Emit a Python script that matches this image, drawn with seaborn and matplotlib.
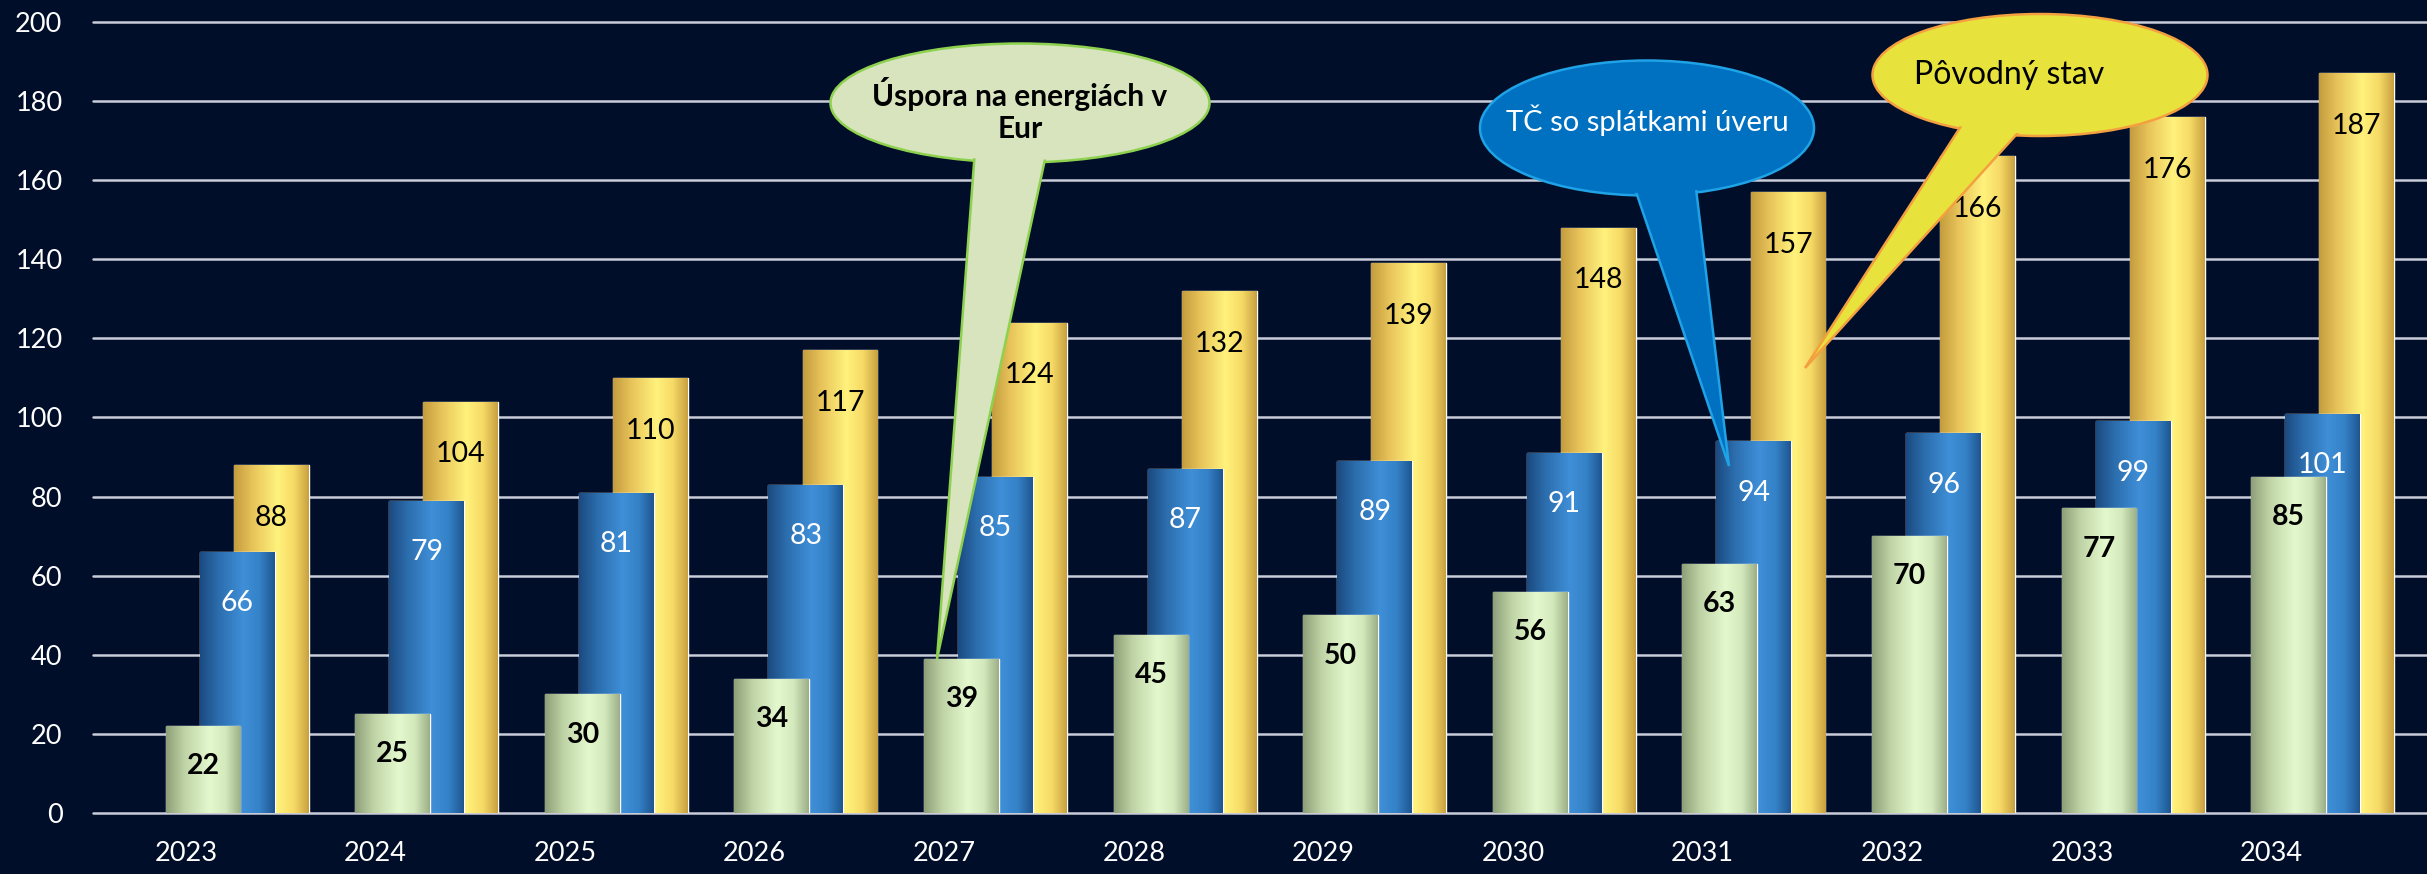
import numpy as np
import pandas as pd
import matplotlib
matplotlib.use("Agg")
import matplotlib.pyplot as plt
import seaborn as sns
from matplotlib.patches import Ellipse, Polygon
from matplotlib.colors import LinearSegmentedColormap

years = ["2023", "2024", "2025", "2026", "2027", "2028",
         "2029", "2030", "2031", "2032", "2033", "2034"]
uspora = [22, 25, 30, 34, 39, 45, 50, 56, 63, 70, 77, 85]
tc_uver = [66, 79, 81, 83, 85, 87, 89, 91, 94, 96, 99, 101]
povodny = [88, 104, 110, 117, 124, 132, 139, 148, 157, 166, 176, 187]

W, H = 2427, 874
BG = "#010E29"

sns.set_style("dark")
plt.rcParams["font.family"] = ["Lato", "DejaVu Sans"]

fig = plt.figure(figsize=(W / 100, H / 100), dpi=100, facecolor=BG)
ax = fig.add_axes([93 / W, 1 - 813 / H, (W - 93) / W, (813 - 22) / H])
ax.set_facecolor(BG)

idx = np.arange(len(years))
# values, offset in group, base colour, gradient stops, zorder, label style, label drop (pt)
series = [
    (povodny, 0.36, "#F2D060", ["#C49C3E", "#E8C45A", "#FFF27C", "#F6DA66", "#C8A040"], 2,
     dict(color="black", fontweight="normal"), 38),
    (tc_uver, 0.18, "#2F74B8", ["#1B4A80", "#2C6EAE", "#3F8FD8", "#3481C6", "#1F5690"], 3,
     dict(color="white", fontweight="normal"), 37),
    (uspora, 0.0, "#CDE3B4", ["#8E9F78", "#BFD4A6", "#E4F8CE", "#D3E9BC", "#9CAE86"], 4,
     dict(color="black", fontweight="bold"), 29),
]

grad = np.linspace(0, 1, 256).reshape(1, -1)
for vals, off, base, stops, z, tstyle, drop in series:
    df = pd.DataFrame({"x": idx + off, "v": vals})
    sns.barplot(data=df, x="x", y="v", native_scale=True, width=0.395,
                color=base, saturation=1, errorbar=None, ax=ax, zorder=z)
    cont = ax.containers[-1]
    cmap = LinearSegmentedColormap.from_list("c", list(zip([0, 0.25, 0.58, 0.8, 1], stops)))
    for p, v in zip(cont.patches, vals):
        x0, w, h = p.get_x(), p.get_width(), p.get_height()
        im = ax.imshow(grad, cmap=cmap, aspect="auto", extent=(x0, x0 + w, 0, h),
                       origin="lower", zorder=z, interpolation="bilinear")
        im.set_clip_path(p)
        ax.annotate(str(v), (x0 + w / 2, h), xytext=(0, -drop), textcoords="offset points",
                    ha="center", va="center", fontsize=20.5, zorder=z + 0.5, **tstyle)

ax.set_xlim(-0.58, 11.73)
ax.set_ylim(0, 200)
ax.set_yticks(range(0, 201, 20))
ax.set_xticks(idx - 0.09, years)
ax.set_xlabel("")
ax.set_ylabel("")
for s in ax.spines.values():
    s.set_visible(False)
ax.grid(axis="y", color="#C9CCD9", lw=1.8)
ax.grid(axis="x", visible=False)
ax.set_axisbelow(True)
for gl in ax.get_ygridlines():
    gl.set_clip_on(False)
ax.tick_params(axis="y", colors="white", labelsize=19.5, length=0, pad=22)
ax.tick_params(axis="x", colors="white", labelsize=19.5, length=0, pad=20)


def fp(x, y):
    return (x / W, 1 - y / H)


def callout(center, size, tail, face, edge, text, tpos, tcolor, weight, fs):
    cx, cy = center
    w, h = size
    kw = dict(transform=fig.transFigure, clip_on=False)
    ax.add_patch(Ellipse(fp(cx, cy), w / W, h / H, facecolor=face, edgecolor=edge,
                         lw=1.8, zorder=10, **kw))
    ax.add_patch(Polygon([fp(*p) for p in tail], closed=True, facecolor=face,
                         edgecolor=edge, lw=1.8, zorder=11, **kw))
    ax.add_patch(Ellipse(fp(cx, cy), (w - 5) / W, (h - 5) / H, facecolor=face,
                         edgecolor="none", zorder=12, **kw))
    ax.text(*fp(*tpos), text, transform=fig.transFigure, ha="center", va="center",
            color=tcolor, fontsize=fs, fontweight=weight, zorder=13, linespacing=1.2)


callout((1020, 103), (379, 119), [(975, 150), (1047, 150), (937, 659)],
        "#D7E4BD", "#8ED14F", "Úspora na energiách v\nEur", (1020, 110), "black", "bold", 21.5)
callout((1647, 128), (334, 135), [(1632, 180), (1695, 180), (1729, 466)],
        "#0070C0", "#1FA2E6", "TČ so splátkami úveru", (1647, 120), "white", "normal", 21)
callout((2040, 75), (335, 122), [(1965, 120), (2025, 125), (1805, 368)],
        "#E8E33C", "#F4A040", "Pôvodný stav", (2009, 75), "black", "normal", 23)

fig.savefig("out.png", dpi=100, facecolor=BG)
